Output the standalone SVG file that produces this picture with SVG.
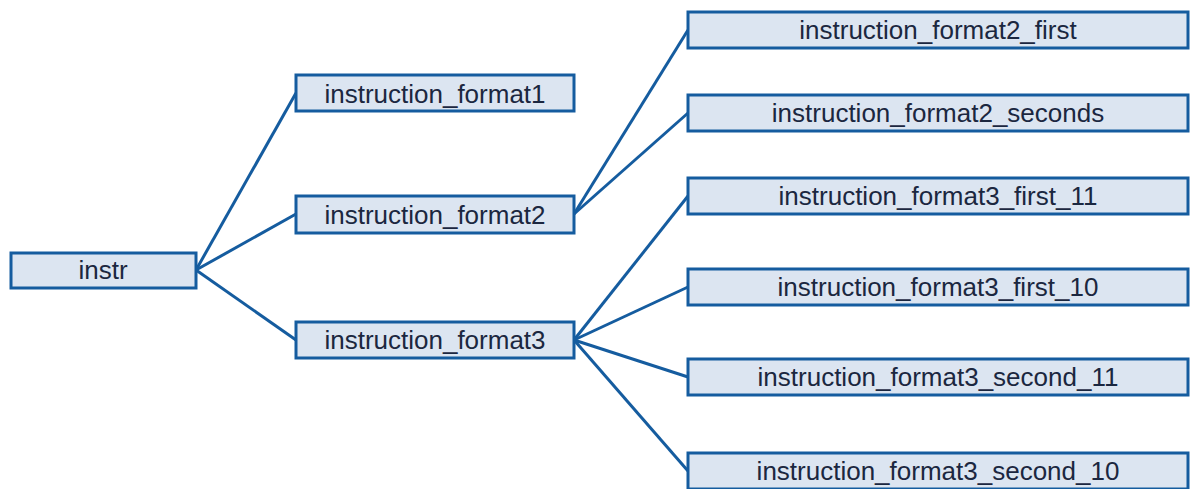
<svg xmlns="http://www.w3.org/2000/svg" width="1191" height="489" viewBox="0 0 1191 489">
<style>
.box{fill:#dce5f1;stroke:#155c9f;stroke-width:3}
.lbl{font-family:"Liberation Sans",Arial,sans-serif;font-size:26px;fill:#1b2740;text-anchor:middle}
.edge{stroke:#155c9f;stroke-width:3;fill:none}
</style>
<rect width="1191" height="489" fill="#ffffff"/>
<g id="connectors">
<line class="edge" x1="196" y1="270" x2="296" y2="93"/>
<line class="edge" x1="196" y1="270" x2="296" y2="214"/>
<line class="edge" x1="196" y1="270" x2="296" y2="340"/>
<line class="edge" x1="574" y1="214" x2="688" y2="30"/>
<line class="edge" x1="574" y1="214" x2="688" y2="113"/>
<line class="edge" x1="574" y1="340" x2="688" y2="196"/>
<line class="edge" x1="574" y1="340" x2="688" y2="287"/>
<line class="edge" x1="574" y1="340" x2="688" y2="377"/>
<line class="edge" x1="574" y1="340" x2="688" y2="471"/>
</g>
<g id="instr"><rect class="box" x="11" y="253" width="185" height="35"/><text class="lbl" x="103" y="279">instr</text></g>
<g id="instruction_format1"><rect class="box" x="296" y="75" width="278" height="36"/><text class="lbl" x="435" y="103">instruction_format1</text></g>
<g id="instruction_format2"><rect class="box" x="296" y="196" width="278" height="37"/><text class="lbl" x="435" y="224">instruction_format2</text></g>
<g id="instruction_format3"><rect class="box" x="296" y="322" width="278" height="36"/><text class="lbl" x="435" y="349">instruction_format3</text></g>
<g id="instruction_format2_first"><rect class="box" x="688" y="12" width="500" height="36"/><text class="lbl" x="938" y="39">instruction_format2_first</text></g>
<g id="instruction_format2_seconds"><rect class="box" x="688" y="95" width="500" height="36"/><text class="lbl" x="938" y="122">instruction_format2_seconds</text></g>
<g id="instruction_format3_first_11"><rect class="box" x="688" y="178" width="500" height="36"/><text class="lbl" x="938" y="205">instruction_format3_first_11</text></g>
<g id="instruction_format3_first_10"><rect class="box" x="688" y="269" width="500" height="36"/><text class="lbl" x="938" y="296">instruction_format3_first_10</text></g>
<g id="instruction_format3_second_11"><rect class="box" x="688" y="359" width="500" height="36"/><text class="lbl" x="938" y="386">instruction_format3_second_11</text></g>
<g id="instruction_format3_second_10"><rect class="box" x="688" y="453" width="500" height="36"/><text class="lbl" x="938" y="480">instruction_format3_second_10</text></g>
</svg>
